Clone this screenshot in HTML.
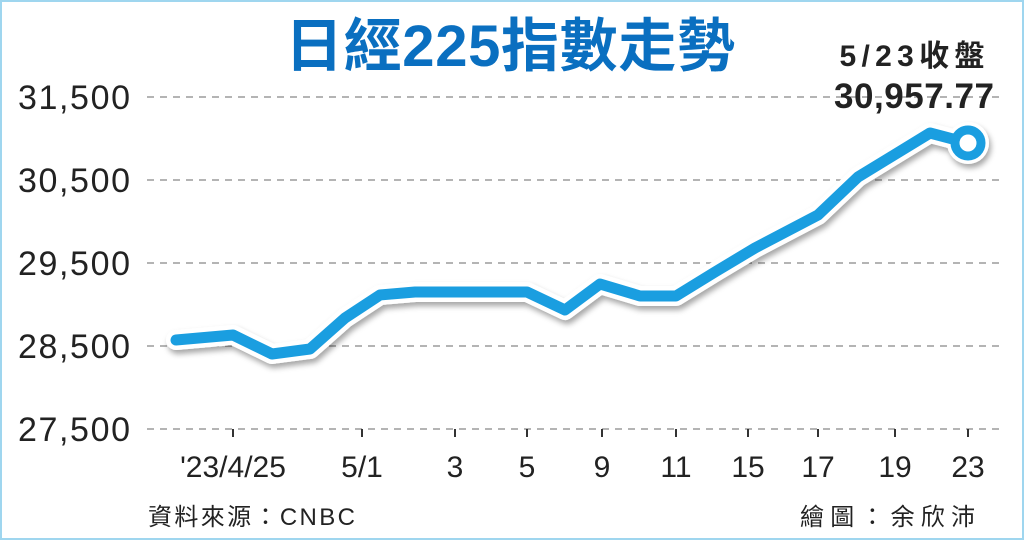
<!DOCTYPE html>
<html><head><meta charset="utf-8"><style>
body{margin:0;width:1024px;height:540px;overflow:hidden;background:#fff;}
svg{display:block}
text{font-family:"Liberation Sans","Noto Sans CJK TC",sans-serif;}
</style></head><body>
<svg width="1024" height="540" viewBox="0 0 1024 540">
<defs><filter id="sh" x="-10%" y="-10%" width="120%" height="140%"><feDropShadow dx="2" dy="4" stdDeviation="3" flood-color="#000" flood-opacity="0.35"/></filter></defs>
<rect x="1" y="1" width="1022" height="538" fill="#fff" stroke="#9fd6ef" stroke-width="2"/>
<g stroke="#888" stroke-width="1.3" stroke-dasharray="7,6">
<line x1="147" y1="97" x2="1000" y2="97"/><line x1="147" y1="180" x2="1000" y2="180"/>
<line x1="147" y1="263" x2="1000" y2="263"/><line x1="147" y1="346" x2="1000" y2="346"/>
<line x1="147" y1="429" x2="1000" y2="429"/>
</g>
<g font-size="34" fill="#222" text-anchor="end">
<text x="130" y="109" textLength="112">31,500</text><text x="130" y="192" textLength="112">30,500</text><text x="130" y="275" textLength="112">29,500</text><text x="130" y="358" textLength="112">28,500</text><text x="130" y="441" textLength="112">27,500</text>
</g>
<g stroke="#333" stroke-width="2">
<line x1="233" y1="429" x2="233" y2="437"/><line x1="362" y1="429" x2="362" y2="437"/><line x1="455" y1="429" x2="455" y2="437"/><line x1="527" y1="429" x2="527" y2="437"/><line x1="602" y1="429" x2="602" y2="437"/><line x1="676" y1="429" x2="676" y2="437"/><line x1="748" y1="429" x2="748" y2="437"/><line x1="818" y1="429" x2="818" y2="437"/><line x1="895" y1="429" x2="895" y2="437"/><line x1="968" y1="429" x2="968" y2="437"/>
</g>
<g font-size="30" fill="#222" text-anchor="middle">
<text x="233" y="477">'23/4/25</text><text x="362" y="477">5/1</text><text x="455" y="477">3</text><text x="527" y="477">5</text><text x="602" y="477">9</text><text x="676" y="477">11</text><text x="748" y="477">15</text><text x="818" y="477">17</text><text x="895" y="477">19</text><text x="968" y="477">23</text>
</g>
<g filter="url(#sh)">
<polyline points="176,340 233,335 272,354 310,349 345,318 380,295 415,292 455,292 490,292 527,292 565,310 600,284 640,296 676,296 715,272 755,248 818,215 858,177 930,133 968,143" fill="none" stroke="#fff" stroke-width="20" stroke-linejoin="round" stroke-linecap="round"/>
<circle cx="968" cy="143" r="21" fill="#fff"/>
</g>
<polyline points="176,340 233,335 272,354 310,349 345,318 380,295 415,292 455,292 490,292 527,292 565,310 600,284 640,296 676,296 715,272 755,248 818,215 858,177 930,133 968,143" fill="none" stroke="#1a9ee0" stroke-width="11" stroke-linejoin="round" stroke-linecap="round"/>
<circle cx="968" cy="143" r="13" fill="#fff" stroke="#1a9ee0" stroke-width="9"/>
<text x="510" y="66" font-size="58" font-weight="bold" fill="#0a6fc0" text-anchor="middle" textLength="450">日經225指數走勢</text>
<text x="912" y="66" font-size="30" font-weight="bold" fill="#222" text-anchor="middle" textLength="145">5/23收盤</text>
<text x="914" y="108" font-size="35" font-weight="bold" fill="#222" text-anchor="middle" textLength="160">30,957.77</text>
<text x="148" y="525" font-size="24" fill="#222" textLength="207">資料來源：CNBC</text>
<text x="975" y="525" font-size="24" fill="#222" text-anchor="end" textLength="175">繪圖：余欣沛</text>
</svg>
</body></html>
